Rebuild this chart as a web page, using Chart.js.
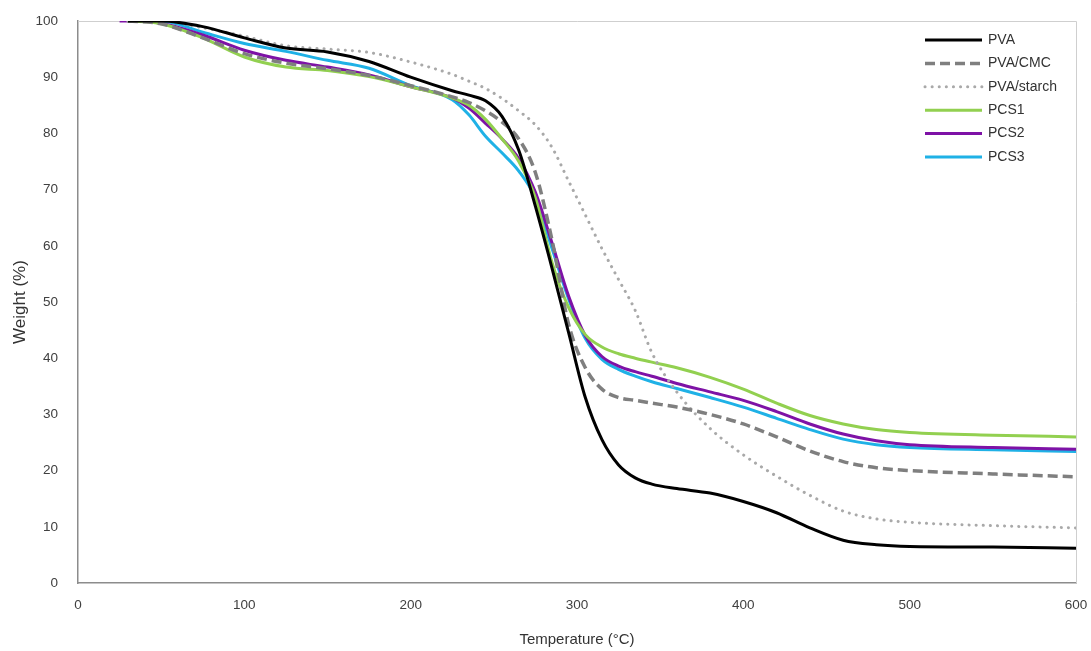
<!DOCTYPE html>
<html>
<head>
<meta charset="utf-8">
<script src="https://cdn.jsdelivr.net/npm/chart.js@4.4.0/dist/chart.umd.min.js"></script>
<style>
  html, body { margin: 0; padding: 0; background: #fff; }
  #wrap { width: 1091px; height: 651px; }
</style>
</head>
<body>
<div id="wrap"><canvas id="tga"></canvas></div>
<script>
// temperature grid (°C) and weight (%)
const temps  = [25, 30, 50, 75, 100, 125, 150, 175, 200, 225, 235, 245, 255, 265, 275, 285, 295, 305, 315, 325, 335, 345, 360, 380, 400, 420, 440, 460, 480, 500, 550, 600];
const pva    = [null, 100, 100, 99, 97, 95.2, 94.5, 92.8, 90, 87.6, 86.8, 85.8, 83, 77, 67, 56, 44.5, 33, 25.5, 21, 18.7, 17.6, 16.8, 16, 14.5, 12.5, 9.8, 7.6, 6.8, 6.5, 6.4, 6.2];
const pvaCmc = [null, 100, 99.5, 97, 94.2, 92.5, 91.5, 90.3, 88.5, 86.5, 85.5, 84, 82, 79, 73, 61, 46, 38.3, 34.5, 33, 32.5, 32, 31.3, 30, 28.3, 26, 23.5, 21.6, 20.5, 20, 19.4, 18.9];
const pvaStarch = [null, 100, 100, 98.8, 97.3, 95.6, 95, 94.4, 92.7, 90.5, 89.3, 88, 86.2, 84, 81.5, 77.5, 71.5, 65.5, 59.5, 54, 48.5, 41, 34, 27.5, 22.8, 19, 15.6, 12.8, 11.4, 10.8, 10.2, 9.8];
const pcs1   = [null, 100, 99.5, 97, 93.6, 91.8, 91.2, 90.1, 88.3, 86.3, 85, 82.5, 79, 75, 68.5, 57, 49, 44.2, 42, 40.8, 40, 39.3, 38.3, 36.6, 34.5, 32, 29.8, 28.3, 27.3, 26.8, 26.3, 26];
const pcs2   = [100, 100, 99.6, 97.5, 94.8, 93, 91.8, 90.4, 88.3, 86.3, 84.5, 81.8, 79, 75.5, 69.5, 60.5, 51, 44, 40.3, 38.6, 37.6, 36.8, 35.5, 34, 32.5, 30.5, 28.3, 26.5, 25.3, 24.6, 24.1, 23.8];
const pcs3   = [null, 100, 100, 98, 96, 94.6, 93, 91.6, 88.5, 86, 83.3, 79.5, 76.5, 73.3, 68.5, 59.5, 50.5, 43.5, 39.8, 38, 36.8, 35.8, 34.6, 33, 31.3, 29.3, 27.3, 25.6, 24.6, 24.1, 23.7, 23.4];

const xTicks = [0, 100, 200, 300, 400, 500, 600];
const yTicks = [0, 10, 20, 30, 40, 50, 60, 70, 80, 90, 100];

const FONT = '"Liberation Sans", Arial, sans-serif';

function pts(vals) {
  return temps.map((t, i) => ({ x: t, y: vals[i] }));
}

function series(label, vals, color, width, dash, cap) {
  return {
    label: label,
    data: pts(vals),
    borderColor: color,
    borderWidth: width,
    borderDash: dash || [],
    borderCapStyle: cap || 'butt',
    pointRadius: 0,
    fill: false,
    cubicInterpolationMode: 'monotone'
  };
}

// light top/right frame
const frame = {
  id: 'frame',
  beforeDatasetsDraw(chart) {
    const a = chart.chartArea, ctx = chart.ctx;
    ctx.save();
    ctx.strokeStyle = '#cfcfcf';
    ctx.lineWidth = 1;
    ctx.beginPath();
    ctx.moveTo(a.left, a.top + 0.5);
    ctx.lineTo(a.right + 0.5, a.top + 0.5);
    ctx.lineTo(a.right + 0.5, a.bottom);
    ctx.stroke();
    ctx.restore();
  }
};

// legend drawn inside the plot, top right
const legendBox = {
  id: 'legendBox',
  afterDraw(chart) {
    const ctx = chart.ctx, a = chart.chartArea;
    chart.data.datasets.forEach((ds, i) => {
      const y = a.top + 19 + i * 23.4;
      const x0 = a.right - 151;
      ctx.save();
      ctx.strokeStyle = ds.borderColor;
      ctx.lineWidth = ds.borderWidth;
      ctx.lineCap = ds.borderCapStyle;
      ctx.setLineDash(ds.borderDash);
      ctx.beginPath();
      ctx.moveTo(x0, y);
      ctx.lineTo(x0 + 57, y);
      ctx.stroke();
      ctx.setLineDash([]);
      ctx.fillStyle = '#333';
      ctx.font = '14px ' + FONT;
      ctx.textBaseline = 'middle';
      ctx.fillText(ds.label, x0 + 63, y);
      ctx.restore();
    });
  }
};

new Chart(document.getElementById('tga'), {
  type: 'line',
  data: {
    datasets: [
      series('PVA', pva, '#000000', 3),
      series('PVA/CMC', pvaCmc, '#7f7f7f', 3.5, [10, 5]),
      series('PVA/starch', pvaStarch, '#a9a9a9', 3, [0.1, 7], 'round'),
      series('PCS1', pcs1, '#92d050', 3),
      series('PCS2', pcs2, '#7e12a6', 3),
      series('PCS3', pcs3, '#1fb1e6', 3)
    ]
  },
  options: {
    responsive: true,
    maintainAspectRatio: false,
    animation: false,
    layout: { padding: { top: 21, right: 15, left: 0, bottom: 0 } },
    plugins: { legend: { display: false }, tooltip: { enabled: false } },
    scales: {
      x: {
        type: 'linear',
        min: 0, max: 600,
        afterFit(s) { s.height = 68; s.paddingLeft = 0; s.paddingRight = 0; },
        afterBuildTicks(s) { s.ticks = xTicks.map(v => ({ value: v })); },
        grid: { display: false, drawTicks: false, tickLength: 0 },
        border: { display: true, color: '#8c8c8c', width: 1.5 },
        ticks: { padding: 14, color: '#404040', font: { family: FONT, size: 13.5 }, maxRotation: 0 },
        title: { display: true, text: 'Temperature (°C)', color: '#333', font: { family: FONT, size: 15 }, padding: { top: 0, bottom: 2 } }
      },
      y: {
        min: 0, max: 100,
        afterFit(s) { s.width = 78; s.paddingTop = 0; s.paddingBottom = 0; },
        afterBuildTicks(s) { s.ticks = yTicks.map(v => ({ value: v })); },
        grid: { display: false, drawTicks: false, tickLength: 0 },
        border: { display: true, color: '#8c8c8c', width: 1.5 },
        ticks: { padding: 20, color: '#404040', font: { family: FONT, size: 13.5 } },
        title: { display: true, text: 'Weight (%)', color: '#333', font: { family: FONT, size: 17 }, padding: { top: 10, bottom: 0 } }
      }
    }
  },
  plugins: [frame, legendBox]
});
</script>
</body>
</html>
